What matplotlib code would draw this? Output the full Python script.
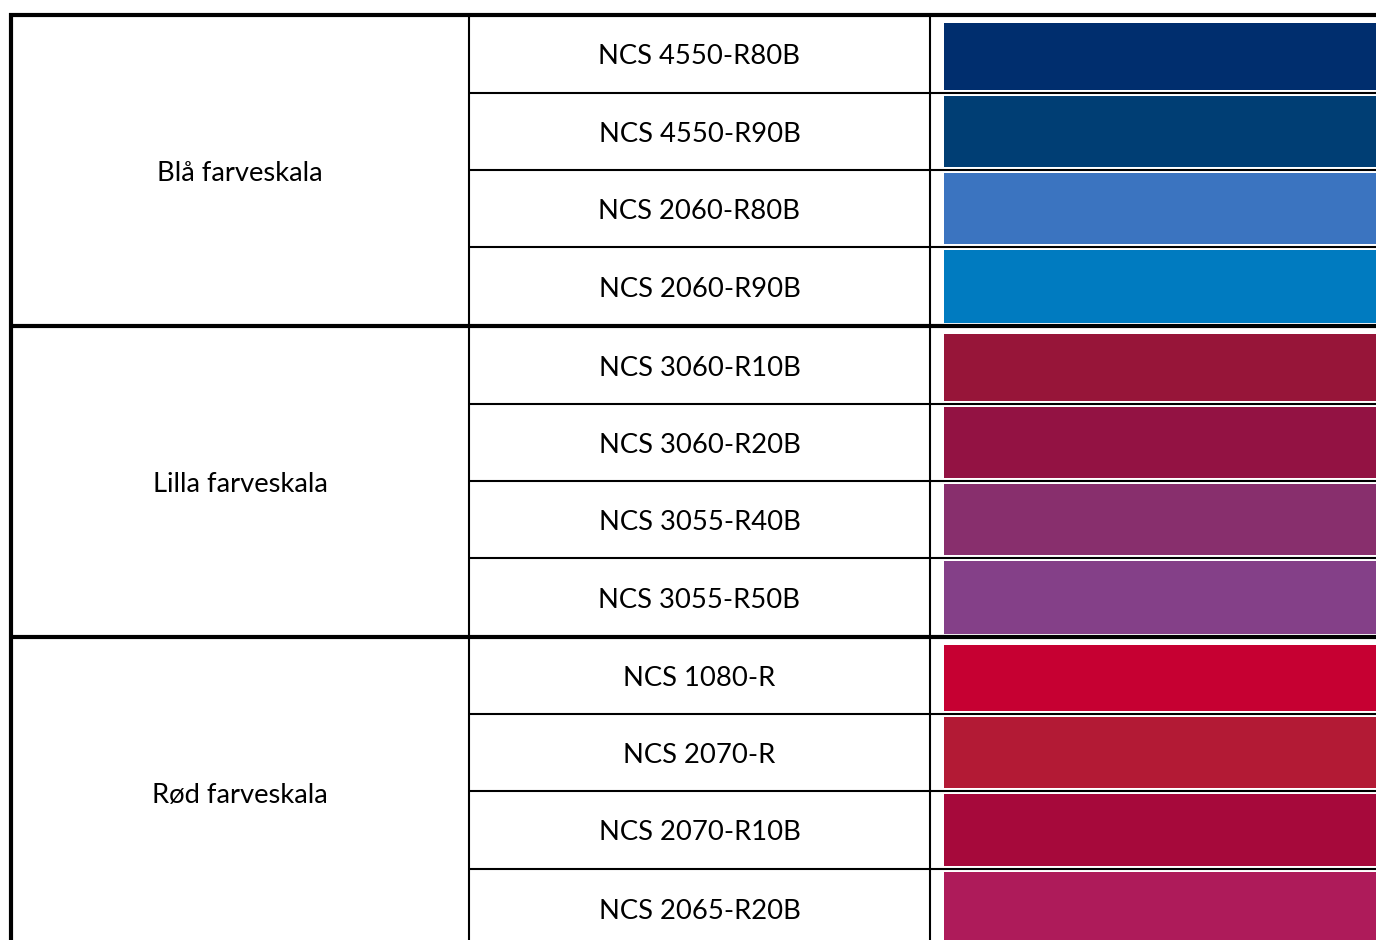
import matplotlib.pyplot as plt
import matplotlib.patches as mpatches

# scales (group name, number of colours)
groups = ["Blå farveskala", "Lilla farveskala", "Rød farveskala"]
codes = [
    "NCS 4550-R80B", "NCS 4550-R90B", "NCS 2060-R80B", "NCS 2060-R90B",
    "NCS 3060-R10B", "NCS 3060-R20B", "NCS 3055-R40B", "NCS 3055-R50B",
    "NCS 1080-R", "NCS 2070-R", "NCS 2070-R10B", "NCS 2065-R20B",
]
swatches = [
    "#002E6E", "#003E74", "#3B74C0", "#007BC0",
    "#971539", "#931243", "#882F6D", "#844088",
    "#C60032", "#B31A35", "#A6093B", "#AE1B5A",
]
rows_per_group = 4

# layout in pixels
W, H = 1376, 940
col_x = [11, 469, 930, 1400]
row_y = [15, 93, 170, 247, 326, 404, 481, 558, 637, 714, 791, 869, 948]

fig = plt.figure(figsize=(W / 100, H / 100), dpi=100)
ax = fig.add_axes([0, 0, 1, 1])
ax.set_xlim(0, W)
ax.set_ylim(H, 0)
ax.axis("off")

font = dict(family=["Lato", "DejaVu Sans"], fontsize=19.7, color="#000000",
            ha="center", va="center")

# swatches
for i, c in enumerate(swatches):
    top = row_y[i] + (3 if i % rows_per_group else 8)
    bot = row_y[i + 1] - 3
    ax.add_patch(mpatches.Rectangle((944, top), 1400 - 944, bot - top,
                                    facecolor=c, edgecolor="none", zorder=1))

# code texts
for i, code in enumerate(codes):
    yc = (row_y[i] + row_y[i + 1]) / 2 + 3
    ax.text((col_x[1] + col_x[2]) / 2, yc, code, **font)

# group texts
for g, name in enumerate(groups):
    y0 = row_y[g * rows_per_group]
    y1 = row_y[(g + 1) * rows_per_group]
    ax.text((col_x[0] + col_x[1]) / 2, (y0 + y1) / 2 + 3, name, **font)

# thin row lines
for i in range(1, len(row_y) - 1):
    if i % rows_per_group:
        ax.plot([col_x[1], W + 10], [row_y[i], row_y[i]], color="black",
                lw=1.5, solid_capstyle="butt", zorder=3)

# thick group lines
for g in range(len(groups) + 1):
    y = row_y[g * rows_per_group]
    ax.plot([col_x[0] - 2, W + 10], [y, y], color="black", lw=3.0,
            solid_capstyle="butt", zorder=4)

# vertical lines
ax.plot([col_x[0], col_x[0]], [row_y[0] - 2, H + 10], color="black", lw=3.0,
        solid_capstyle="butt", zorder=4)
for x in col_x[1:3]:
    ax.plot([x, x], [row_y[0], H + 10], color="black", lw=1.5,
            solid_capstyle="butt", zorder=3)

fig.savefig("out.png", dpi=100, facecolor="white")
